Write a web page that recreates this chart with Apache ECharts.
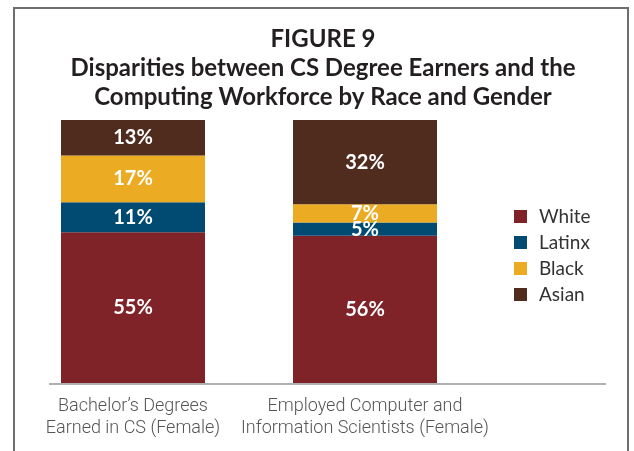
<!DOCTYPE html>
<html><head><meta charset="utf-8">
<script src="https://cdn.jsdelivr.net/npm/echarts@6/dist/echarts.min.js"></script>
<style>html,body{margin:0;padding:0;background:#fff}#c{width:634px;height:451px}</style>
</head><body><div id="c"></div>
<script>
const categories = ["Bachelor\u2019s Degrees\nEarned in CS (Female)", "Employed Computer and\nInformation Scientists (Female)"];
const seriesNames = ["White", "Latinx", "Black", "Asian"];
const white = [55, 56];
const latinx = [11, 5];
const black = [17, 7];
const asian = [13, 32];
const colors = ["#7f2329", "#014b72", "#ebac23", "#502c1f"];

const raw = [white, latinx, black, asian];
const totals = categories.map((_, i) => raw.reduce((s, a) => s + a[i], 0));

const chart = echarts.init(document.getElementById('c'));
chart.setOption({
  animation: false,
  title: {
    text: "FIGURE 9\nDisparities between CS Degree Earners and the\nComputing Workforce by Race and Gender",
    left: 318, top: 20, textAlign: 'center',
    textStyle: { fontFamily: 'Lato', fontWeight: 'bold', fontSize: 24, lineHeight: 29, color: '#231f20', align: 'center' }
  },
  legend: {
    orient: 'vertical', left: 509, top: 202, itemWidth: 13, itemHeight: 13, itemGap: 7, icon: 'rect',
    textStyle: { fontFamily: 'Lato', fontSize: 19, color: '#333', padding: [0, 0, 0, 7] },
    data: seriesNames
  },
  grid: { left: 17, width: 464, top: 120, bottom: 68 },
  xAxis: {
    type: 'category', data: categories,
    axisLine: { show: false }, axisTick: { show: false },
    axisLabel: { interval: 0, margin: 12, fontFamily: 'Roboto', fontWeight: 300, fontSize: 18, lineHeight: 22, color: '#555' }
  },
  yAxis: { type: 'value', min: 0, max: 100, show: false },
  graphic: [
    { type: 'rect', shape: { x: 14, y: 8, width: 614, height: 470 }, style: { fill: 'none', stroke: '#6e6e6e', lineWidth: 2 } },
    { type: 'line', shape: { x1: 49, y1: 384, x2: 606, y2: 384 }, style: { stroke: '#b0b0b0', lineWidth: 2 } }
  ],
  series: raw.map((arr, k) => ({
    name: seriesNames[k], type: 'bar', stack: 's', barWidth: 144,
    itemStyle: { color: colors[k] },
    label: { show: true, position: 'inside', color: '#fff', fontFamily: 'Lato', fontWeight: 'bold', fontSize: 20,
      formatter: p => arr[p.dataIndex] + '%' },
    data: arr.map((v, i) => v / totals[i] * 100)
  }))
});
</script></body></html>
